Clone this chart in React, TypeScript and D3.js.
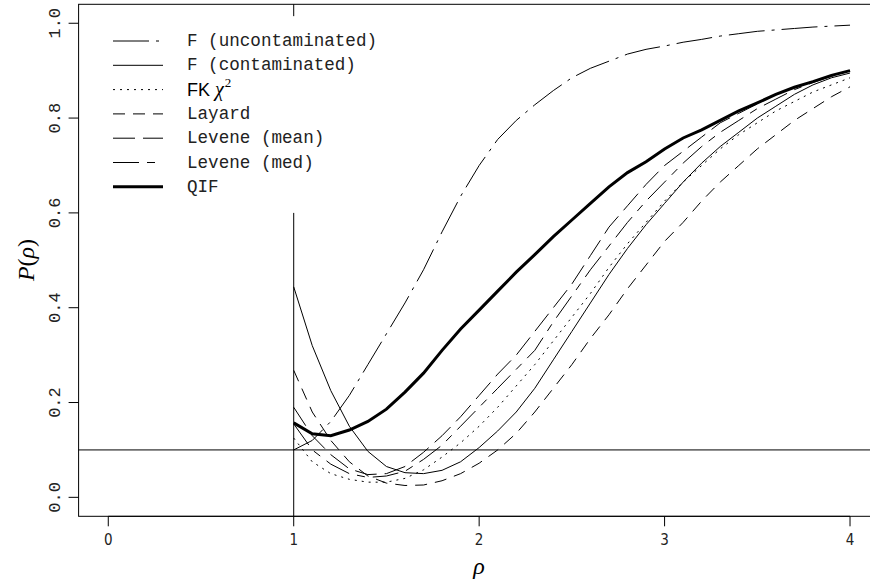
import * as d3 from "d3";

// rho grid 1.0 .. 4.0 by 0.1
const rho = [1.0, 1.1, 1.2, 1.3, 1.4, 1.5, 1.6, 1.7, 1.8, 1.9, 2.0, 2.1, 2.2, 2.3, 2.4, 2.5,
  2.6, 2.7, 2.8, 2.9, 3.0, 3.1, 3.2, 3.3, 3.4, 3.5, 3.6, 3.7, 3.8, 3.9, 4.0];

const fUncont = [0.10, 0.12, 0.16, 0.215, 0.28, 0.345, 0.41, 0.48, 0.56, 0.635, 0.7, 0.755, 0.795,
  0.828, 0.858, 0.885, 0.905, 0.92, 0.935, 0.945, 0.952, 0.96, 0.966, 0.973, 0.978, 0.983, 0.986,
  0.989, 0.992, 0.994, 0.996];
const fCont = [0.444, 0.32, 0.225, 0.15, 0.097, 0.065, 0.052, 0.05, 0.057, 0.075, 0.105, 0.14, 0.18,
  0.23, 0.29, 0.35, 0.41, 0.47, 0.525, 0.575, 0.62, 0.665, 0.705, 0.74, 0.77, 0.8, 0.825, 0.85,
  0.87, 0.885, 0.895];
const fk = [0.125, 0.075, 0.05, 0.038, 0.032, 0.032, 0.04, 0.058, 0.085, 0.115, 0.15, 0.19, 0.235,
  0.28, 0.33, 0.38, 0.43, 0.485, 0.535, 0.58, 0.625, 0.665, 0.7, 0.735, 0.765, 0.79, 0.815, 0.835,
  0.855, 0.87, 0.885];
const layard = [0.268, 0.18, 0.12, 0.075, 0.045, 0.03, 0.025, 0.026, 0.035, 0.05, 0.072, 0.1, 0.135,
  0.18, 0.23, 0.28, 0.335, 0.385, 0.44, 0.49, 0.54, 0.58, 0.625, 0.665, 0.7, 0.735, 0.765, 0.795,
  0.82, 0.845, 0.866];
const leveneMean = [0.19, 0.13, 0.09, 0.06, 0.048, 0.05, 0.065, 0.095, 0.13, 0.17, 0.215, 0.26, 0.3,
  0.35, 0.4, 0.45, 0.51, 0.57, 0.615, 0.66, 0.7, 0.73, 0.76, 0.79, 0.81, 0.83, 0.85, 0.865, 0.878,
  0.89, 0.9];
const leveneMed = [0.155, 0.1, 0.07, 0.05, 0.042, 0.045, 0.055, 0.08, 0.11, 0.15, 0.19, 0.23, 0.27,
  0.31, 0.37, 0.425, 0.48, 0.53, 0.58, 0.625, 0.665, 0.705, 0.74, 0.77, 0.795, 0.82, 0.84, 0.86,
  0.875, 0.888, 0.9];
const qif = [0.157, 0.134, 0.13, 0.142, 0.16, 0.186, 0.222, 0.262, 0.31, 0.355, 0.395, 0.435, 0.475,
  0.512, 0.55, 0.585, 0.62, 0.655, 0.685, 0.708, 0.735, 0.758, 0.775, 0.795, 0.815, 0.832, 0.85,
  0.865, 0.877, 0.89, 0.9];

const xTicks = [0, 1, 2, 3, 4];
const yTicks = [0.0, 0.2, 0.4, 0.6, 0.8, 1.0];

const series = [
  { name: "F (uncontaminated)", values: fUncont, dash: "36,7,3,7", width: 1 },
  { name: "F (contaminated)", values: fCont, dash: null, width: 1 },
  { name: "FK", values: fk, dash: "2,5", width: 1 },
  { name: "Layard", values: layard, dash: "12,8", width: 1 },
  { name: "Levene (mean)", values: leveneMean, dash: "22,8", width: 1 },
  { name: "Levene (med)", values: leveneMed, dash: "26,8,8,8", width: 1 },
  { name: "QIF", values: qif, dash: null, width: 3 },
];

export default function App() {
  const x = d3.scaleLinear().domain([-0.16, 4.16]).range([78.6, 879.7]);
  const y = d3.scaleLinear().domain([-0.04, 1.04]).range([516.3, 4.3]);
  const line = d3
    .line<number>()
    .x((_, i) => x(rho[i]))
    .y((d) => y(d));

  const mono = "'Liberation Mono', 'DejaVu Sans Mono', monospace";
  const left = x.range()[0];
  const right = x.range()[1];
  const top = y.range()[1];
  const bottom = y.range()[0];

  return (
    <svg
      width={870}
      height={581}
      style={{ position: "absolute", left: 0, top: 0, background: "#fff" }}
    >
      <rect x={0} y={0} width={870} height={581} fill="#fff" />
      {/* box */}
      <rect x={left} y={top} width={right - left} height={bottom - top} fill="none" stroke="#000" strokeWidth={1} />

      {/* x axis */}
      {xTicks.map((t) => (
        <g key={t}>
          <line x1={x(t)} x2={x(t)} y1={bottom} y2={bottom + 10} stroke="#000" />
          <text
            x={x(t)}
            y={545}
            textAnchor="middle"
            fontFamily="'DejaVu Sans', sans-serif"
            style={{ fontStretch: "condensed" }}
            fontSize={15}
            fill="#222"
          >
            {t}
          </text>
        </g>
      ))}
      <line x1={x(0)} x2={x(4)} y1={bottom} y2={bottom} stroke="#000" />

      {/* y axis */}
      {yTicks.map((t) => (
        <g key={t}>
          <line x1={left - 10} x2={left} y1={y(t)} y2={y(t)} stroke="#000" />
          <text
            x={60}
            y={y(t)}
            textAnchor="middle"
            fontFamily={mono}
            fontSize={17}
            fill="#222"
            transform={`rotate(-90, 60, ${y(t)})`}
          >
            {t.toFixed(1)}
          </text>
        </g>
      ))}

      {/* axis titles */}
      <text x={479} y={574} textAnchor="middle" fontFamily="'Liberation Serif', serif" fontStyle="italic" fontSize={24}>
        ρ
      </text>
      <text
        x={34}
        y={260}
        textAnchor="middle"
        fontFamily="'Liberation Serif', serif"
        fontSize={24}
        transform="rotate(-90, 34, 260)"
      >
        <tspan fontStyle="italic">P</tspan>(<tspan fontStyle="italic">ρ</tspan>)
      </text>

      {/* reference lines */}
      <line x1={left} x2={right} y1={y(0.1)} y2={y(0.1)} stroke="#000" />
      <line x1={x(1)} x2={x(1)} y1={bottom} y2={y(0.6)} stroke="#000" />
      <line x1={x(1)} x2={x(1)} y1={top} y2={y(1.015)} stroke="#000" />

      {/* curves */}
      {series.map((s) => (
        <path
          key={s.name}
          d={line(s.values) || ""}
          fill="none"
          stroke="#000"
          strokeWidth={s.width}
          strokeDasharray={s.dash || undefined}
        />
      ))}

      {/* legend */}
      {series.map((s, i) => {
        const ly = 41 + i * 24.3;
        return (
          <g key={"leg" + s.name}>
            <line
              x1={113}
              x2={163}
              y1={ly}
              y2={ly}
              stroke="#000"
              strokeWidth={s.width}
              strokeDasharray={s.dash || undefined}
            />
            {s.name === "FK" ? (
              <text x={187} y={ly + 6} fontSize={18}>
                <tspan fontFamily="'Liberation Sans', sans-serif">FK</tspan>
                <tspan fontFamily="'Liberation Serif', serif" fontStyle="italic" fontSize={20} dx={5}>χ</tspan>
                <tspan fontFamily="'Liberation Serif', serif" fontSize={13} dx={1} dy={-9}>2</tspan>
              </text>
            ) : (
              <text x={187} y={ly + 5} fontFamily={mono} fontSize={17.6} fill="#222">
                {s.name}
              </text>
            )}
          </g>
        );
      })}
    </svg>
  );
}
